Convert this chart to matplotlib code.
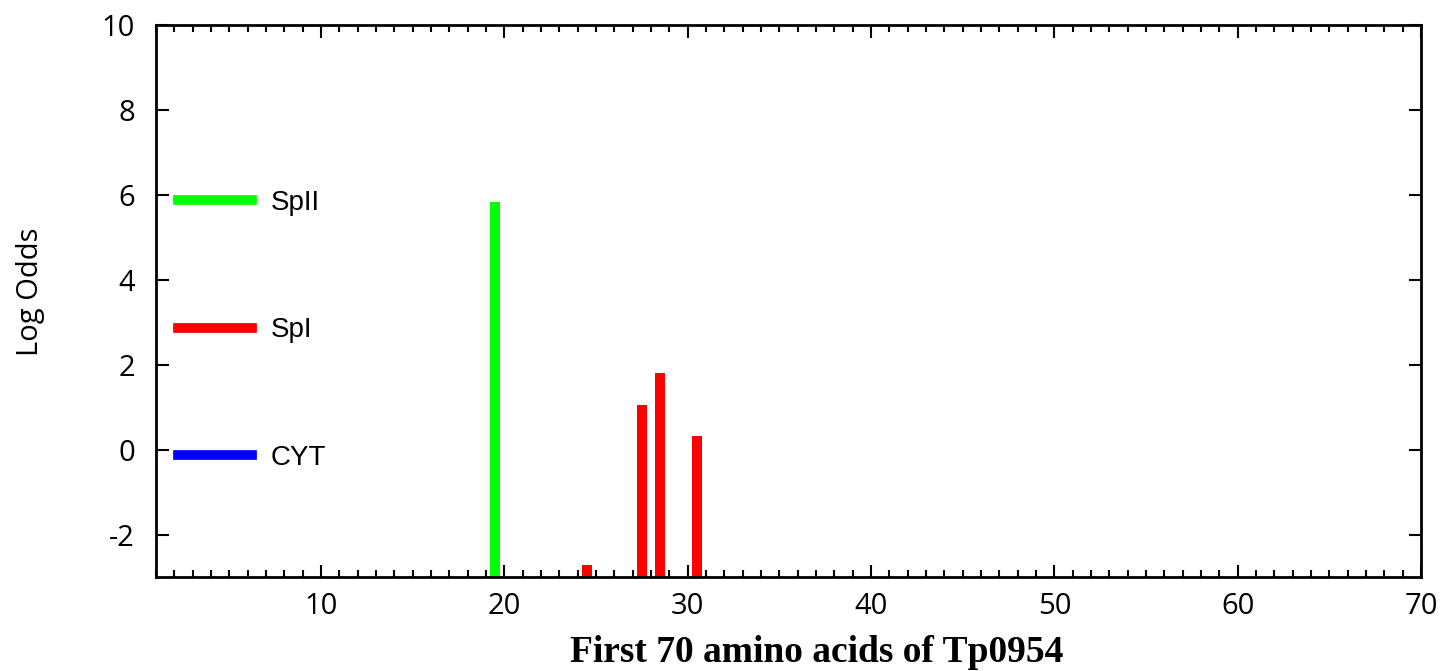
import matplotlib
matplotlib.use("Agg")
import matplotlib.pyplot as plt
from matplotlib.ticker import MultipleLocator
from matplotlib.lines import Line2D
import numpy as np

# Data
spii_pos = [19.5]
spii_val = [5.82]
spi_pos = [24.5, 27.5, 28.5, 30.5]
spi_val = [-2.71, 1.06, 1.81, 0.33]
cyt_pos = []
cyt_val = []
legend_labels = ["SpII", "SpI", "CYT"]
x_ticks = [10, 20, 30, 40, 50, 60, 70]
y_ticks = [-2, 0, 2, 4, 6, 8, 10]

YMIN, YMAX = -3, 10
XMIN, XMAX = 1, 70

fig = plt.figure(figsize=(14.45, 6.71), dpi=100)
ax = fig.add_axes([156/1445, 1 - 577/671, (1421-156)/1445, (577-25)/671])

w = 0.54
ax.bar(spii_pos, np.array(spii_val) - YMIN, bottom=YMIN, width=w, color="#00ff00", linewidth=0)
ax.bar(spi_pos, np.array(spi_val) - YMIN, bottom=YMIN, width=w, color="#ff0000", linewidth=0)
if cyt_pos:
    ax.bar(cyt_pos, np.array(cyt_val) - YMIN, bottom=YMIN, width=w, color="#0000ff", linewidth=0)

ax.set_xlim(XMIN, XMAX)
ax.set_ylim(YMIN, YMAX)
ax.set_xticks(x_ticks)
ax.set_yticks(y_ticks)
ax.xaxis.set_minor_locator(MultipleLocator(1))

tickfont = dict(family="Open Sans", size=21)
ax.set_xticklabels([str(t) for t in x_ticks], **tickfont)
ax.set_yticklabels([str(t) for t in y_ticks], **tickfont)

ax.tick_params(axis="both", which="major", direction="in", length=9, width=1.5,
               top=True, right=True, color="black")
ax.tick_params(axis="x", which="minor", direction="in", length=5, width=1.5, top=True)
ax.tick_params(axis="x", which="major", pad=11)
ax.tick_params(axis="y", which="major", pad=15)
for s in ax.spines.values():
    s.set_linewidth(2)
    s.set_color("black")

ax.set_ylabel("Log Odds", family="Open Sans", size=21)
ax.yaxis.set_label_coords(-0.088, 0.516)
ax.set_xlabel("First 70 amino acids of Tp0954", family="Liberation Serif",
              weight="bold", size=27)
ax.xaxis.set_label_coords(0.5225, -0.105)

handles = [Line2D([], [], color=c, lw=7) for c in ["#00ff00", "#ff0000", "#0000ff"]]
leg = ax.legend(handles, legend_labels, loc="center left", bbox_to_anchor=(0.0175, 0.447),
                frameon=False, borderpad=0, borderaxespad=0, handlelength=2.66,
                handletextpad=0.68, labelspacing=3.66,
                prop=dict(family="Liberation Sans", size=20))

fig.savefig("out.png", dpi=100)
